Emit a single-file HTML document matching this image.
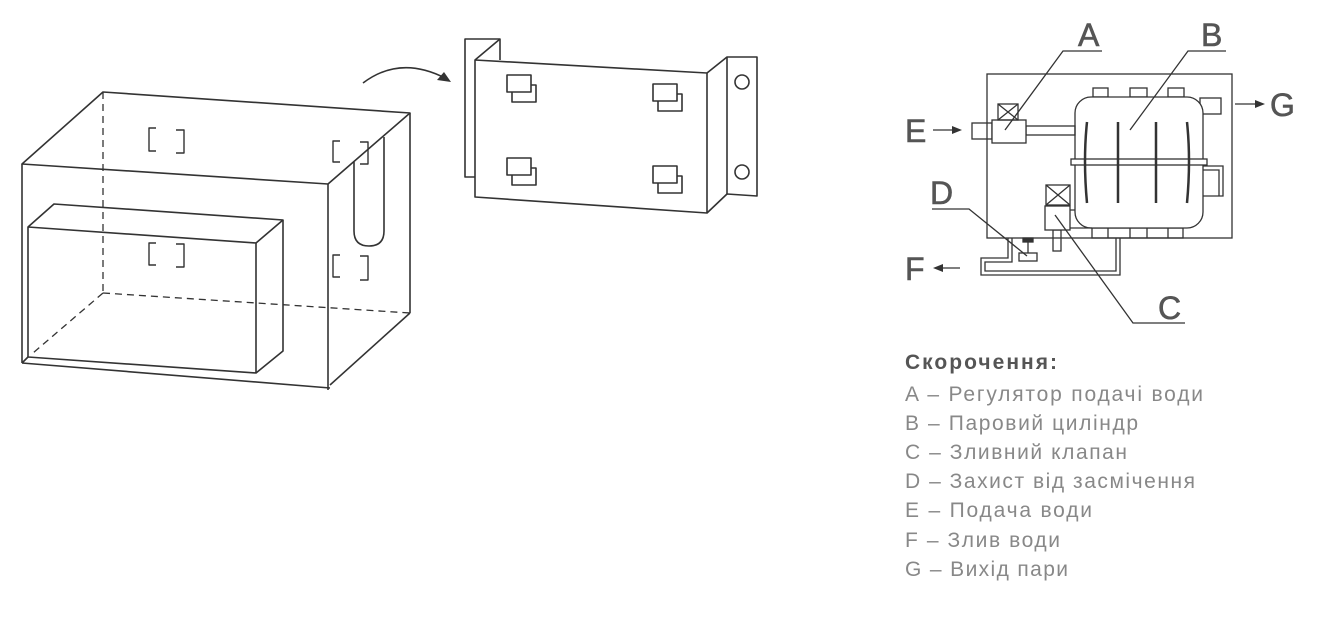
<!DOCTYPE html>
<html><head><meta charset="utf-8"><style>
html,body{margin:0;padding:0;background:#fff;}
svg{display:block;}
</style></head><body>
<svg width="1340" height="617" viewBox="0 0 1340 617" xmlns="http://www.w3.org/2000/svg">
<g fill="none" stroke="#333" stroke-width="1.6" stroke-linejoin="round">
<polygon points="103,92 410,113 328,184 22,164"/>
<line x1="22" y1="164" x2="22" y2="363"/>
<line x1="328" y1="184" x2="328" y2="390"/>
<line x1="410" y1="113" x2="410" y2="313"/>
<line x1="410" y1="313" x2="330" y2="385"/>
<line x1="22" y1="363" x2="330" y2="388"/>
<g stroke-dasharray="7,5" stroke-width="1.3">
<line x1="103" y1="92" x2="103" y2="293"/>
<line x1="103" y1="293" x2="410" y2="313"/>
<line x1="103" y1="293" x2="33" y2="353"/>
</g>
<polygon points="28,227 256,243 256,373 28,357"/>
<polyline points="28,227 54,204 283,220 256,243"/>
<polyline points="283,220 283,351 256,373"/>
<line x1="28" y1="357" x2="22" y2="363"/>
<path d="M354,162 L354,231 Q354,246 369,246 Q384,246 384,231 L384,137"/>
<g stroke-width="1.4">
<path d="M156,128 H149 V151 H156 M176,130 H184 V153 H176"/>
<path d="M340,141 H333 V162 H340 M360,142 H368 V164 H360"/>
<path d="M156,243 H149 V265 H156 M176,244 H184 V267 H176"/>
<path d="M340,255 H333 V277 H340 M360,256 H368 V280 H360"/>
</g>
<path d="M363,83 Q400,55 445,78"/>
</g>
<polygon points="451,82 437,80 444,72" fill="#333"/>
<g fill="none" stroke="#333" stroke-width="1.6" stroke-linejoin="round">
<polyline points="475,177 465,177 465,39 500,39 500,60"/>
<line x1="475" y1="60" x2="500" y2="39"/>
<polygon points="475,60 707,73 707,213 475,197"/>
<polyline points="707,73 727,57 757,57 757,196 727,194 707,213"/>
<line x1="727" y1="57" x2="727" y2="194"/>
<circle cx="742" cy="82" r="7"/>
<circle cx="742" cy="172" r="7"/>
<g>
<rect x="512" y="85" width="24" height="17" fill="#fff"/><rect x="507" y="75" width="24" height="17" fill="#fff"/>
<rect x="658" y="94" width="24" height="17" fill="#fff"/><rect x="653" y="84" width="24" height="17" fill="#fff"/>
<rect x="512" y="168" width="24" height="17" fill="#fff"/><rect x="507" y="158" width="24" height="17" fill="#fff"/>
<rect x="658" y="176" width="24" height="17" fill="#fff"/><rect x="653" y="166" width="24" height="17" fill="#fff"/>
</g>
</g>
<g fill="none" stroke="#333" stroke-width="1.3">
<rect x="987" y="74" width="245" height="164"/>
<rect x="1093" y="88" width="15" height="9"/><rect x="1130" y="88" width="17" height="9"/><rect x="1168" y="88" width="16" height="9"/>
<rect x="1200" y="98" width="21" height="16"/>
<path d="M1203,166 H1223 V196 H1203"/><path d="M1203,170 H1219 V196"/>
<rect x="1092" y="228" width="91" height="10"/>
<line x1="1108" y1="228" x2="1108" y2="238"/><line x1="1130" y1="228" x2="1130" y2="238"/><line x1="1147" y1="228" x2="1147" y2="238"/><line x1="1168" y1="228" x2="1168" y2="238"/>
<rect x="1075" y="97" width="128" height="131" rx="16" fill="#fff"/>
<rect x="1071" y="159" width="136" height="6" fill="#fff"/>
<g stroke-width="2.5"><path d="M1087,122 Q1083,160 1087,203"/><line x1="1118" y1="122" x2="1118" y2="203"/><line x1="1156" y1="122" x2="1156" y2="203"/><path d="M1187,122 Q1191,160 1187,203"/></g>
<rect x="972" y="123" width="20" height="16"/>
<rect x="1026" y="126" width="49" height="9"/>
<rect x="992" y="120" width="34" height="23" fill="#fff"/>
<rect x="998" y="104" width="20" height="16"/><path d="M998,104 L1018,120 M1018,104 L998,120"/>
<rect x="1053" y="230" width="8" height="21"/>
<path d="M1070,210 H1075 M1060,228 H1092"/>
<rect x="1045" y="206" width="25" height="24" fill="#fff"/>
<rect x="1046" y="185" width="24" height="20"/><path d="M1046,185 L1070,205 M1070,185 L1046,205"/>
<path d="M1008,238 V258 H981 V275 H1120 V238"/>
<path d="M1012,238 V262 H985 V271 H1116 V238"/>
<rect x="1019" y="253" width="18" height="8" fill="#fff"/>
<line x1="1028" y1="241" x2="1028" y2="253"/>
<rect x="1023" y="238" width="10" height="4" fill="#333"/>
<polyline points="1102,51 1063,51 1005,130"/>
<polyline points="1226,51 1188,51 1130,130"/>
<polyline points="932,209 969,209 1027,256"/>
<polyline points="1185,323 1133,323 1055,215"/>
<line x1="933" y1="130" x2="955" y2="130"/>
<line x1="1235" y1="104" x2="1258" y2="104"/>
<line x1="960" y1="268" x2="940" y2="268"/>
</g>
<g fill="#333">
<polygon points="962,130 952,126 952,134"/>
<polygon points="1265,104 1255,100 1255,108"/>
<polygon points="933,268 943,264 943,272"/>
</g>
<g font-family="Liberation Sans, sans-serif" fill="#555" stroke="#555" stroke-width="0.6" font-size="32">
<text x="1078" y="46">A</text><text x="1201" y="46">B</text>
<text x="905" y="142">E</text><text x="1270" y="116">G</text>
<text x="930" y="204">D</text><text x="905" y="280">F</text>
<text x="1158" y="319">C</text>
</g>
<g font-family="Liberation Sans, 'DejaVu Sans', sans-serif" font-size="21" fill="#888" lengthAdjust="spacingAndGlyphs">
<text x="905" y="369" font-weight="bold" fill="#555" textLength="152">Скорочення:</text>
<text x="905" y="401" textLength="298">A – Регулятор подачі води</text>
<text x="905" y="430" textLength="233">B – Паровий циліндр</text>
<text x="905" y="459" textLength="222">C – Зливний клапан</text>
<text x="905" y="488" textLength="290">D – Захист від засмічення</text>
<text x="905" y="517" textLength="187">E – Подача води</text>
<text x="905" y="547" textLength="155">F – Злив води</text>
<text x="905" y="576" textLength="163">G – Вихід пари</text>
</g>
</svg>
</body></html>
